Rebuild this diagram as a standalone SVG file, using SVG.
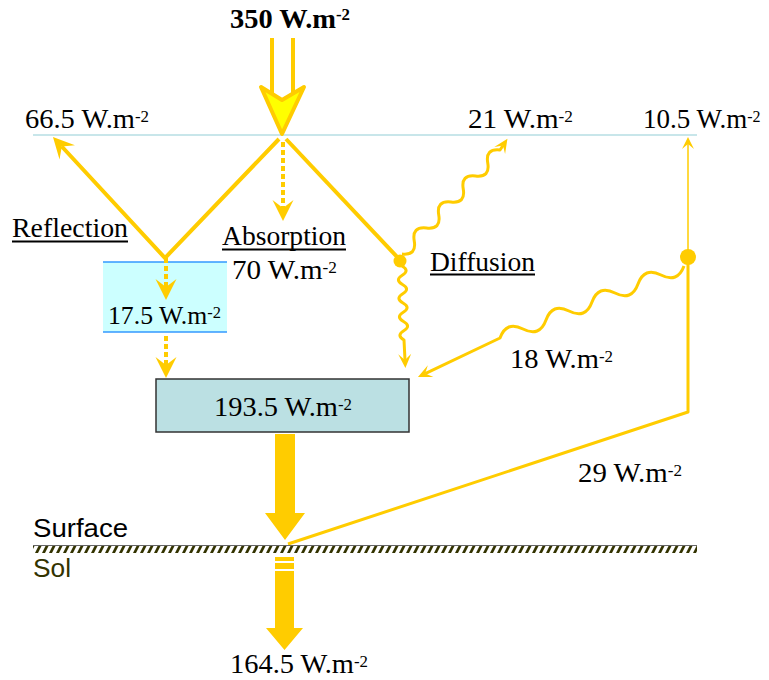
<svg xmlns="http://www.w3.org/2000/svg" width="769" height="680" viewBox="0 0 769 680">
<style>
.t{font-family:"Liberation Serif","Times New Roman",serif;font-size:27px;fill:#000}
.s{font-size:16px}
.a{font-family:"Liberation Sans",Arial,sans-serif;font-size:25px}
.y{fill:none;stroke:#FFCC00;stroke-width:4}
.w{fill:none;stroke:#FFCC00;stroke-width:3;stroke-linejoin:round}
.d{fill:none;stroke:#FFCC00;stroke-width:4;stroke-dasharray:5 3}
.u{stroke:#000;stroke-width:2}
.f{fill:#FFCC00}
</style>
<defs>
<marker id="ah" markerUnits="userSpaceOnUse" orient="auto" overflow="visible" markerWidth="1" markerHeight="1" refX="0" refY="0"><path d="M13,0 L-8,-10.5 L0,0 L-8,10.5 Z" fill="#FFCC00"/></marker>
<marker id="am" markerUnits="userSpaceOnUse" orient="auto" overflow="visible" markerWidth="1" markerHeight="1" refX="0" refY="0"><path d="M8,0 L-6,-6.5 L0,0 L-6,6.5 Z" fill="#FFCC00"/></marker>
<marker id="as" markerUnits="userSpaceOnUse" orient="auto" overflow="visible" markerWidth="1" markerHeight="1" refX="0" refY="0"><path d="M7,0 L-5,-6 L0,0 L-5,6 Z" fill="#FFCC00"/></marker>
<pattern id="hatch" patternUnits="userSpaceOnUse" x="0" y="545" width="7" height="8"><rect width="7" height="8" fill="#fff"/><polygon points="4,0 7,0 3,8 0,8" fill="#333300"/></pattern>
</defs>

<line x1="33" y1="135" x2="697" y2="135" stroke="#C8E6EA" stroke-width="2"/>

<g id="cloud-layer">
<rect x="103" y="262" width="124" height="70" fill="#CCFFFF"/>
<line x1="103" y1="262" x2="227" y2="262" stroke="#3399FF" stroke-width="1.5"/>
<line x1="103" y1="332" x2="227" y2="332" stroke="#3399FF" stroke-width="1.5"/>
<text class="t" x="108" y="324" style="font-size:25px" textLength="113" lengthAdjust="spacingAndGlyphs">17.5 W.m<tspan class="s" dy="-6">-2</tspan></text>
</g>

<g id="total-box">
<rect x="156" y="379" width="253" height="53" fill="#BBE0E3" stroke="#333" stroke-width="1.5"/>
<text class="t" x="214" y="416" textLength="138" lengthAdjust="spacingAndGlyphs">193.5 W.m<tspan class="s" dy="-6">-2</tspan></text>
</g>

<g id="incoming">
<line x1="272" y1="38" x2="272" y2="96" class="y"/>
<line x1="293" y1="38" x2="293" y2="96" class="y"/>
<polygon points="261,87 282,100 304,87 282,134" fill="#FFFF00" stroke="#FFCC00" stroke-width="4" stroke-linejoin="round"/>
<text class="t" x="230" y="28" font-weight="bold" textLength="120" lengthAdjust="spacingAndGlyphs">350 W.m<tspan class="s" dy="-8">-2</tspan></text>
</g>

<g id="connectors">
<path d="M279,139 L165,258 L61.8,146.5" class="y" stroke-linejoin="miter" marker-end="url(#ah)"/>
<line x1="286" y1="139" x2="400" y2="260" class="y"/>
<path d="M283,142 L283,208" class="d" marker-end="url(#ah)"/>
<path d="M166,258 L166,287" class="d" marker-end="url(#ah)"/>
<path d="M166,336 L166,365" class="d" marker-end="url(#ah)"/>
<path d="M402,254 Q416.8,255.7 414.25,241 T426.5,228 T438.75,215 T451,202 T463.25,189 T475.5,176 T487.75,163 T500,150 L503,145.5" class="w" marker-end="url(#am)"/>
<path d="M402,266 Q410.1,270.6 402.25,275.25 T402.5,284.5 T402.75,293.75 T403,303 T403.25,312.25 T403.5,321.5 T403.75,330.75 T404,340 L405,360" class="w" marker-end="url(#am)"/>
<path d="M684,266 Q677.6,283.5 661,275 T638,284 T615,293 T592,302 T569,311 T546,320 T523,329 T500,338 L425.2,373.6" class="w" marker-end="url(#am)"/>
<line x1="688" y1="250" x2="688" y2="144" stroke="#FFCC00" stroke-width="1.5" marker-end="url(#as)"/>
<path d="M688,257 L688,412 L288,544" class="w" stroke-linejoin="miter"/>
<polygon points="275,434 295,434 295,513 305,513 285,540 265,513 275,513" class="f"/>
<rect x="275" y="557" width="19" height="4" class="f"/>
<rect x="275" y="563" width="19" height="6" class="f"/>
<polygon points="275,571 294,571 294,628 303,628 284.5,650 266,628 275,628" class="f"/>
</g>

<g id="diffusion-dot"><circle cx="400" cy="261" r="6.5" class="f"/></g>
<g id="scatter-dot"><circle cx="688" cy="257" r="8" class="f"/></g>

<g id="labels">
<text class="t" x="25" y="128" textLength="124" lengthAdjust="spacingAndGlyphs">66.5 W.m<tspan class="s" dy="-6">-2</tspan></text>
<text class="t" x="468" y="128" textLength="105" lengthAdjust="spacingAndGlyphs">21 W.m<tspan class="s" dy="-6">-2</tspan></text>
<text class="t" x="643" y="128">10.5 W.m<tspan class="s" dy="-6">-2</tspan></text>
<text class="t" x="12" y="237" textLength="116" lengthAdjust="spacingAndGlyphs">Reflection</text>
<line x1="12" y1="241.5" x2="128" y2="241.5" class="u"/>
<text class="t" x="222" y="245" textLength="124" lengthAdjust="spacingAndGlyphs">Absorption</text>
<line x1="222" y1="249.5" x2="346" y2="249.5" class="u"/>
<text class="t" x="232" y="279" textLength="105" lengthAdjust="spacingAndGlyphs">70 W.m<tspan class="s" dy="-6">-2</tspan></text>
<text class="t" x="430" y="271" textLength="105" lengthAdjust="spacingAndGlyphs">Diffusion</text>
<line x1="430" y1="274.5" x2="535" y2="274.5" class="u"/>
<text class="t" x="510" y="368" textLength="103" lengthAdjust="spacingAndGlyphs">18 W.m<tspan class="s" dy="-6">-2</tspan></text>
<text class="t" x="578" y="482" textLength="104" lengthAdjust="spacingAndGlyphs">29 W.m<tspan class="s" dy="-6">-2</tspan></text>
<text class="t" x="230" y="673" textLength="138" lengthAdjust="spacingAndGlyphs">164.5 W.m<tspan class="s" dy="-6">-2</tspan></text>
</g>

<g id="surface">
<rect x="33" y="545" width="664" height="8" fill="url(#hatch)"/>
<line x1="33" y1="545.5" x2="697" y2="545.5" stroke="#666" stroke-width="1"/>
<text class="a" x="33" y="537" textLength="95" lengthAdjust="spacingAndGlyphs">Surface</text>
<text class="a" x="33" y="577" fill="#333300" style="font-size:26px" textLength="38" lengthAdjust="spacingAndGlyphs">Sol</text>
</g>
</svg>
